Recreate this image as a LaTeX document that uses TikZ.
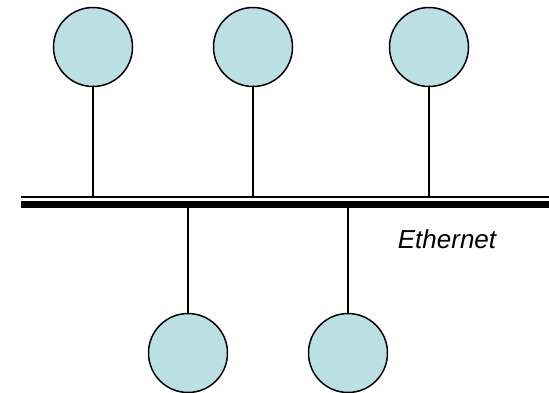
\documentclass[tikz,border=0pt]{standalone}
\usepackage{fontspec}
\setmainfont{Liberation Sans}
\usetikzlibrary{positioning}

\definecolor{hostfill}{RGB}{187,224,227}

\tikzset{
  host/.style={circle,draw=black,line width=1.5pt,fill=hostfill,minimum size=79pt,inner sep=0pt},
  tap/.style={line width=1.6pt},
}

\begin{document}
\begin{tikzpicture}[x=1pt,y=-1pt]
  \useasboundingbox (0,0) rectangle (549,392);

  % the cable: thin upper strand, heavy lower strand
  \draw[line width=1.8pt] (21,196.8) -- (549,196.8);
  \draw[line width=7.5pt] (21,204.5) -- (549,204.5);

  % hosts above the cable
  \node[host] (h1) at (93,47) {};
  \node[host] (h2) at (253,47) {};
  \node[host] (h3) at (429,47) {};
  % hosts below the cable
  \node[host] (h4) at (188,353) {};
  \node[host] (h5) at (348,353) {};

  \coordinate (t1) at (93,196.8);
  \coordinate (t2) at (253,196.8);
  \coordinate (t3) at (429,196.8);
  \coordinate (t4) at (188,201);
  \coordinate (t5) at (348,201);

  \foreach \h in {1,...,3} {
    \draw[tap] (h\h.south) -- (t\h);
  }
  \foreach \h in {4,5} {
    \draw[tap] (h\h.north) -- (t\h);
  }

  \node[font=\fontsize{26}{31}\selectfont\itshape] (eth) at (447,239) {Ethernet};
\end{tikzpicture}
\end{document}
